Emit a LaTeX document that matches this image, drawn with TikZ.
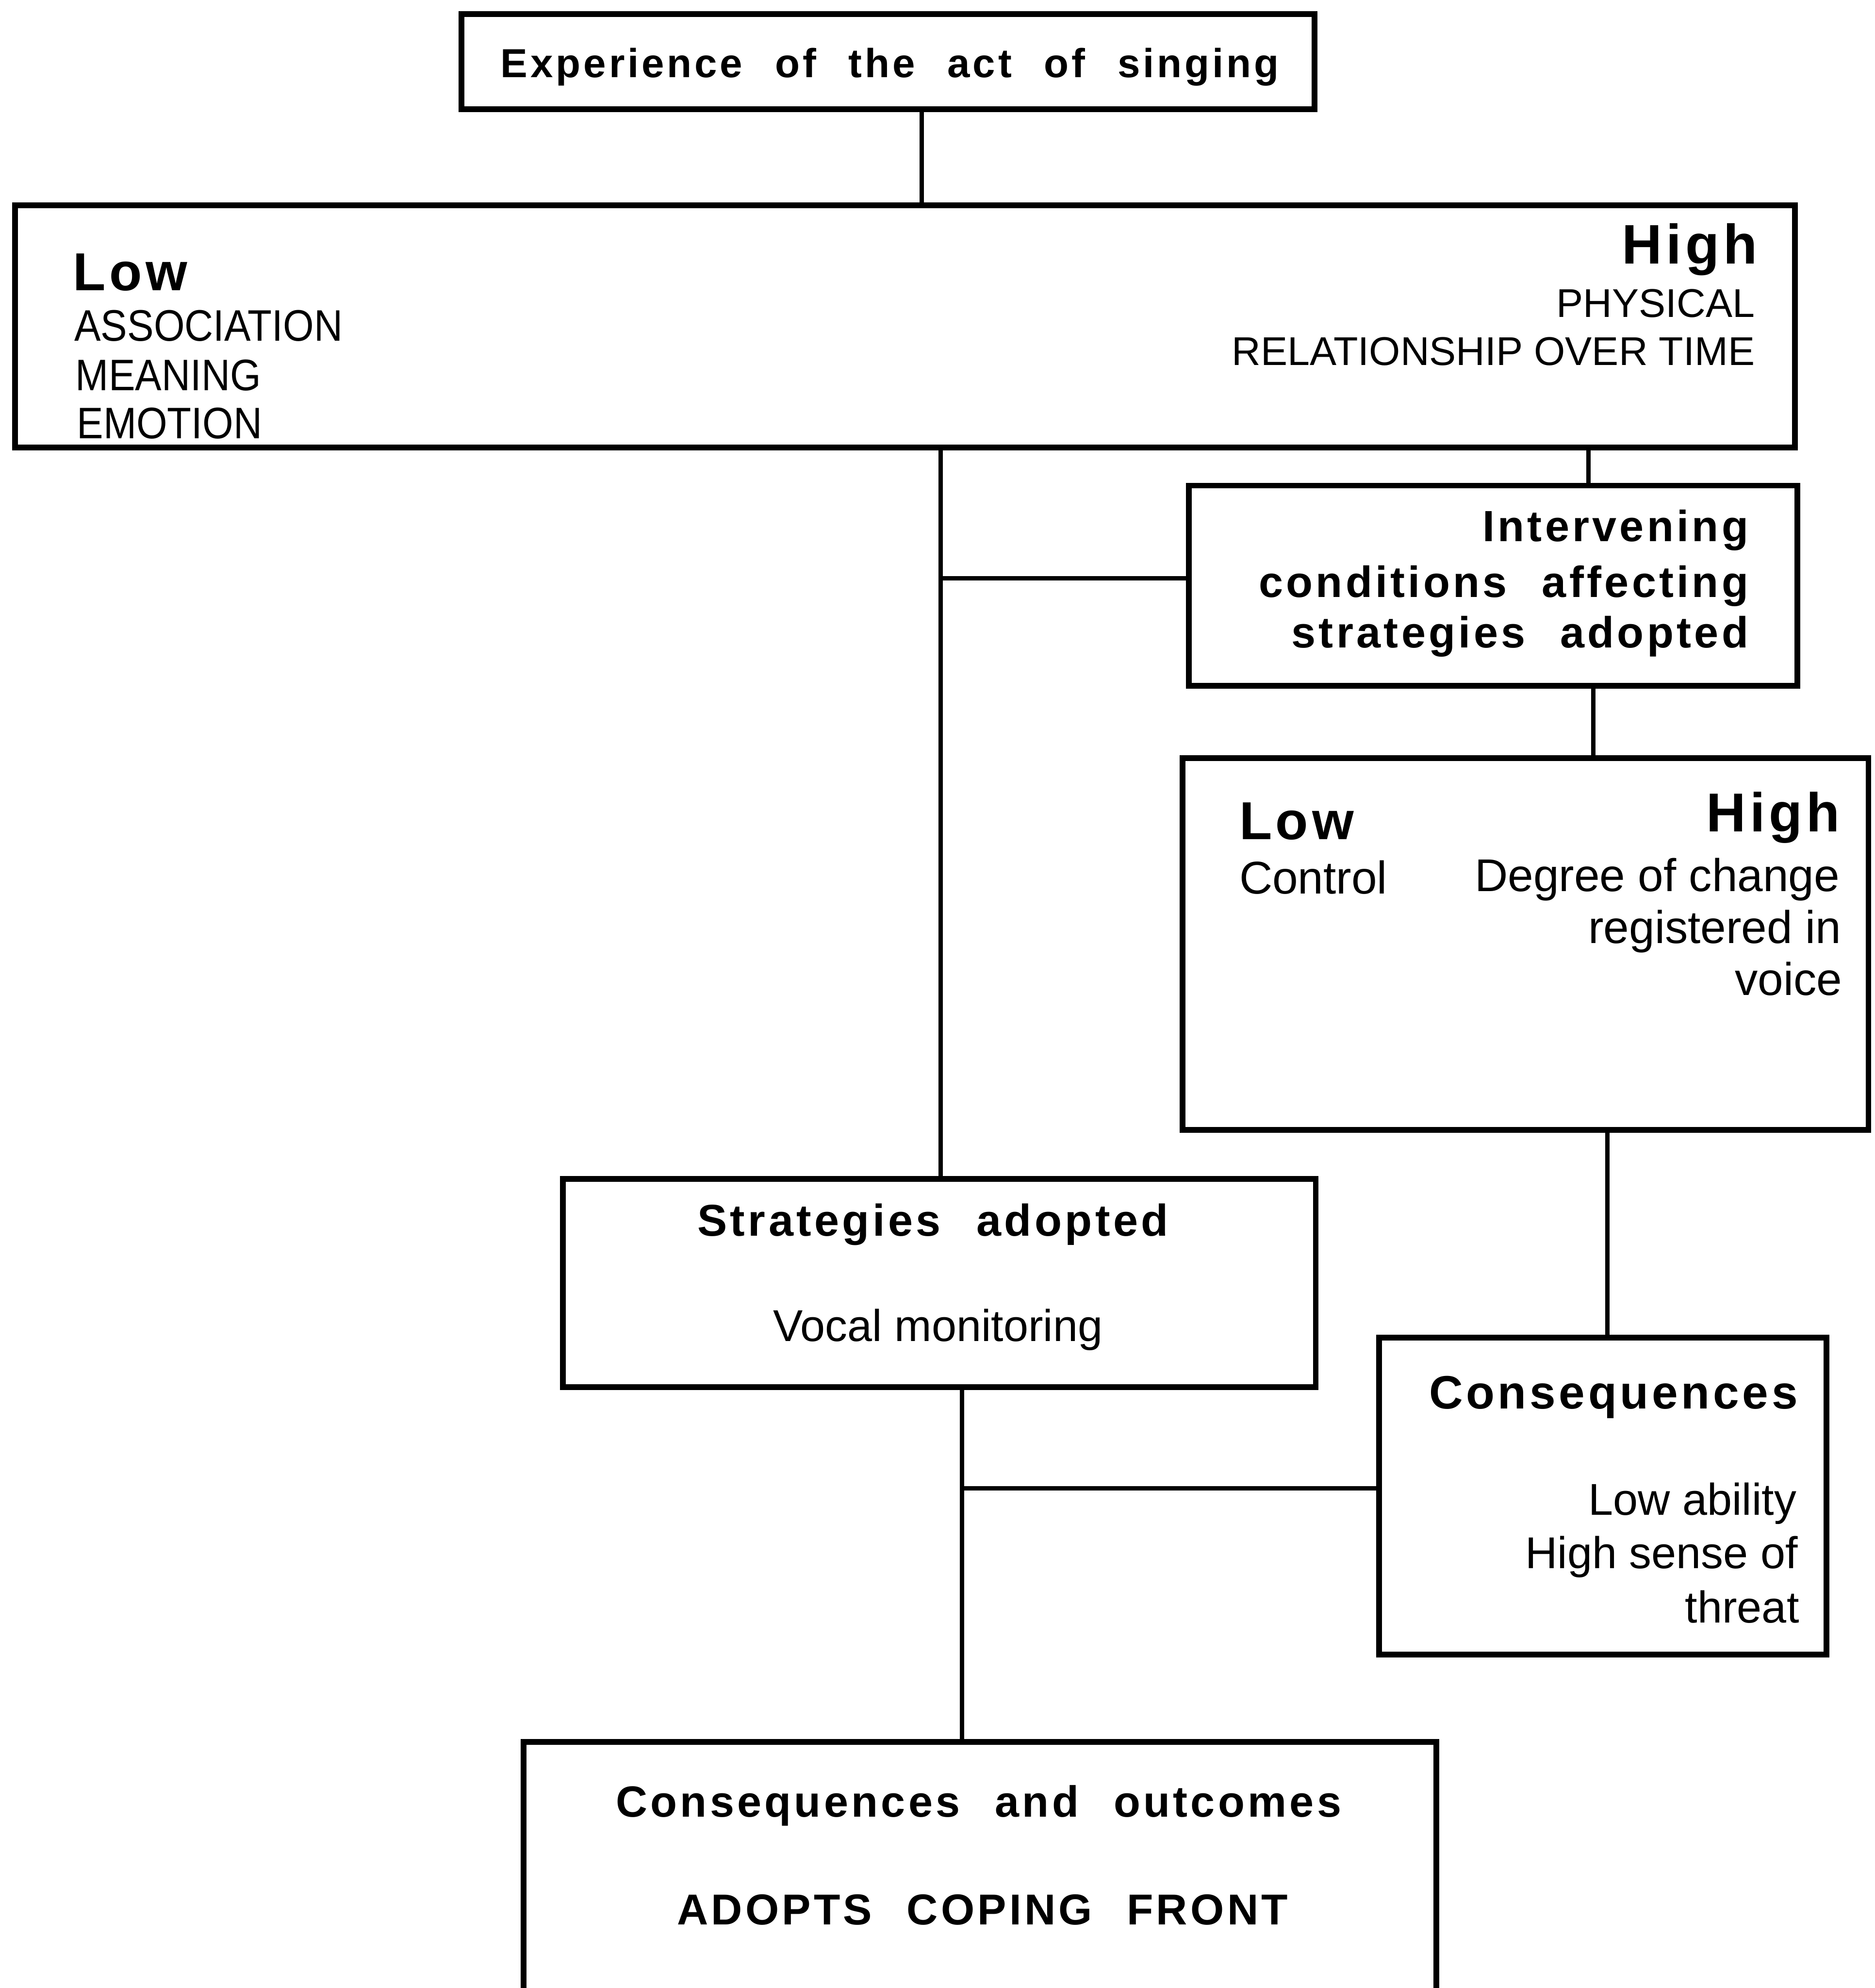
\documentclass[tikz,border=0pt]{standalone}
\usepackage{fontspec}
\setmainfont{Liberation Sans}
\newfontfamily\spb{Liberation Sans}[LetterSpace=7,WordSpace=2.3]
\newfontfamily\nrw{Liberation Sans}[FakeStretch=0.9]
\usetikzlibrary{fit}

\tikzset{
  box/.style={draw, line width=1.3pt, inner sep=0pt, outer sep=0pt},
  link/.style={draw, line width=1pt},
  hd/.style={inner sep=0pt, font={\spb\bfseries\fontsize{#1}{#1}\selectfont}},
  tx/.style={inner sep=0pt, font={\fontsize{#1}{#1}\selectfont}},
  nx/.style={inner sep=0pt, font={\nrw\fontsize{#1}{#1}\selectfont}},
}

\begin{document}
\begin{tikzpicture}[x=0.1mm, y=-0.1mm]
\path[use as bounding box, clip] (0,0) rectangle (1479,1568);

% boxes
\node[box, fit={(364,11) (1037,86)}]    (top)   {};
\node[box, fit={(12,162) (1416,353)}]   (big)   {};
\node[box, fit={(938,383) (1418,541)}]  (inter) {};
\node[box, fit={(933,598) (1474,891)}]  (ctrl)  {};
\node[box, fit={(444,930) (1038,1094)}] (strat) {};
\node[box, fit={(1088,1055) (1441,1305)}] (cons) {};
\node[box, fit={(413,1374) (1133,1640)}] (outc) {};

% connectors
\coordinate (j1) at (742,456);
\coordinate (j2) at (759,1174);
\draw[link] (top.south -| 727,0) -- (big.north -| 727,0);
\draw[link] (big.south -| 1253,0) -- (inter.north -| 1253,0);
\draw[link] (big.south -| 742,0) -- (strat.north -| 742,0);
\draw[link] (j1) -- (inter.west |- j1);
\draw[link] (inter.south -| 1257,0) -- (ctrl.north -| 1257,0);
\draw[link] (ctrl.south -| 1268,0) -- (cons.north -| 1268,0);
\draw[link] (strat.south -| 759,0) -- (outc.north -| 759,0);
\draw[link] (j2) -- (cons.west |- j2);

% top box
\node[hd=9.1, anchor=base] (t1) at (702,61) {Experience of the act of singing};

% big box, left side
\node[hd=12, anchor=base west] (bl) at (57,229) {Low};
\node[nx=9.9, anchor=base west] (bl1) at (58,269) {ASSOCIATION};
\node[nx=9.9, anchor=base west] (bl2) at (59,308) {MEANING};
\node[nx=9.9, anchor=base west] (bl3) at (60,346) {EMOTION};
% big box, right side
\node[hd=12.5, anchor=base east] (bh) at (1387,208) {High};
\node[tx=9, anchor=base east] (bh1) at (1385,250) {PHYSICAL};
\node[tx=9, anchor=base east] (bh2) at (1385,288) {RELATIONSHIP OVER TIME};

% intervening conditions
\node[hd=9.8, anchor=base east] (i1) at (1380,427) {Intervening};
\node[hd=9.8, anchor=base east] (i2) at (1380,471) {conditions affecting};
\node[hd=9.8, anchor=base east] (i3) at (1380,511) {strategies adopted};

% control / degree of change
\node[hd=12, anchor=base west] (cl) at (977,662) {Low};
\node[tx=10.3, anchor=base west] (cl1) at (977,705) {Control};
\node[hd=12.3, anchor=base east] (ch) at (1452,656) {High};
\node[tx=10.3, anchor=base east] (ch1) at (1452,703) {Degree of change};
\node[tx=10.3, anchor=base east] (ch2) at (1453,744) {registered in};
\node[tx=10.3, anchor=base east] (ch3) at (1454,785) {voice};

% strategies adopted
\node[hd=10, anchor=base] (s1) at (736,975) {Strategies adopted};
\node[tx=10, anchor=base] (s2) at (740,1058) {Vocal monitoring};

% consequences
\node[hd=10.5, anchor=base east] (c1) at (1419,1111) {Consequences};
\node[tx=10, anchor=base east] (c2) at (1418,1195) {Low ability};
\node[tx=10, anchor=base east] (c3) at (1419,1237) {High sense of};
\node[tx=10, anchor=base east] (c4) at (1420,1280) {threat};

% consequences and outcomes
\node[hd=9.8, anchor=base] (o1) at (772,1433) {Consequences and outcomes};
\node[hd=9.7, anchor=base] (o2) at (775,1518) {ADOPTS COPING FRONT};
\end{tikzpicture}
\end{document}
